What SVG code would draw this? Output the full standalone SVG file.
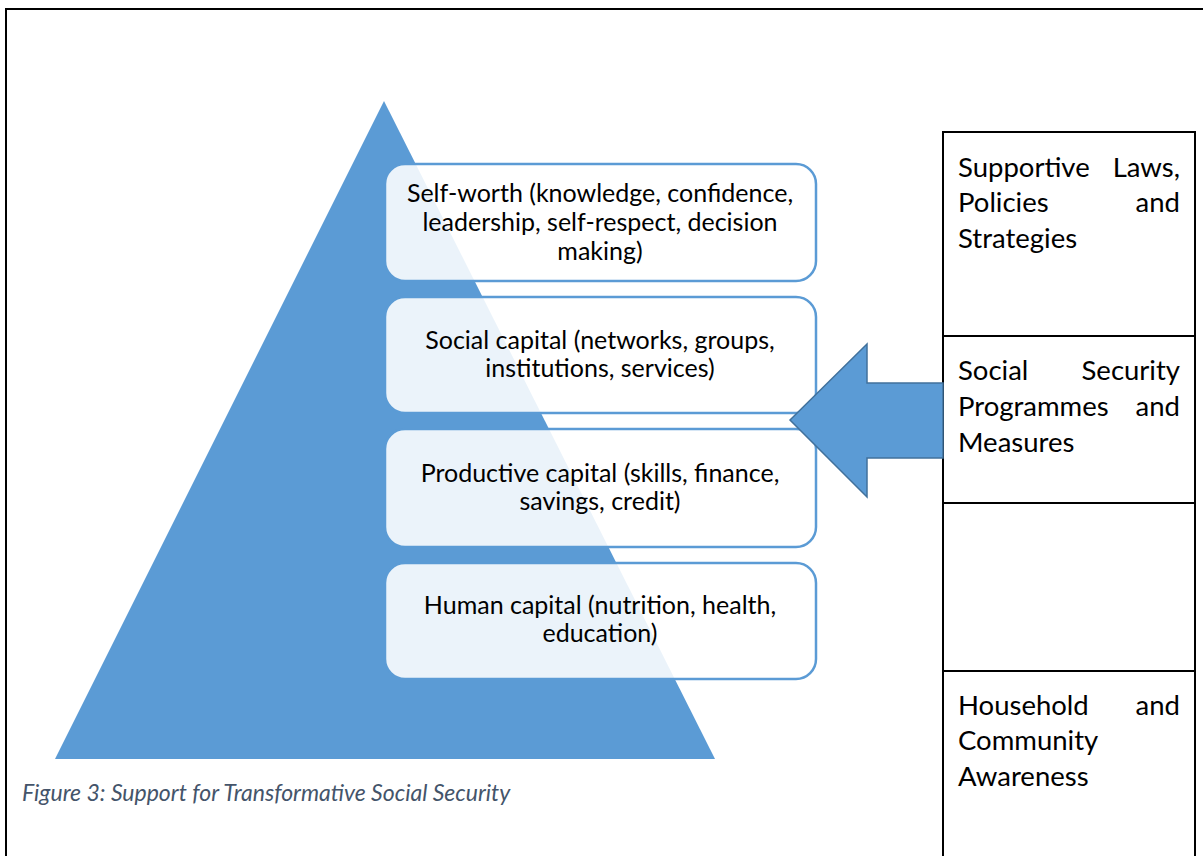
<svg xmlns="http://www.w3.org/2000/svg" width="1203" height="856" viewBox="0 0 1203 856">
<style>
.frame{fill:none;stroke:#000;stroke-width:2}
.tri{fill:#5B9BD5}
.box{fill:#fff;fill-opacity:0.88;stroke:#5B9BD5;stroke-width:2.5}
.bt{font-family:Lato,"Liberation Sans",sans-serif;font-size:25px;fill:#000;text-anchor:middle}
.cell{fill:#fff;stroke:#000;stroke-width:2}
.tt{font-family:Lato,"Liberation Sans",sans-serif;font-size:27.5px;fill:#000}
.end{text-anchor:end}
.arrow{fill:#5B9BD5;stroke:#41719C;stroke-width:1.5}
.cap{font-family:Lato,"Liberation Sans",sans-serif;font-size:23px;font-style:italic;fill:#44546A}
</style>
<rect class="frame" x="6" y="9" width="1210" height="860"/>
<g id="pyramid">
<polygon class="tri" points="384,101 55,759 715,759"/>
</g>
<g id="self-worth">
<rect class="box" x="385" y="164" width="431" height="117" rx="20"/>
<text class="bt" x="600" y="202">Self-worth (knowledge, confidence,</text>
<text class="bt" x="600" y="231">leadership, self-respect, decision</text>
<text class="bt" x="600" y="260">making)</text>
</g>
<g id="social-capital">
<rect class="box" x="385" y="297" width="431" height="116" rx="20"/>
<text class="bt" x="600" y="349">Social capital (networks, groups,</text>
<text class="bt" x="600" y="377">institutions, services)</text>
</g>
<g id="productive-capital">
<rect class="box" x="385" y="429" width="431" height="118" rx="20"/>
<text class="bt" x="600" y="482">Productive capital (skills, finance,</text>
<text class="bt" x="600" y="510">savings, credit)</text>
</g>
<g id="human-capital">
<rect class="box" x="385" y="563" width="431" height="116" rx="20"/>
<text class="bt" x="600" y="614">Human capital (nutrition, health,</text>
<text class="bt" x="600" y="642">education)</text>
</g>
<g id="table">
<g id="laws">
<rect class="cell" x="943" y="132" width="252" height="204"/>
<text class="tt" x="958" y="177">Supportive</text>
<text class="tt end" x="1180" y="177">Laws,</text>
<text class="tt" x="958" y="212">Policies</text>
<text class="tt end" x="1180" y="212">and</text>
<text class="tt" x="958" y="248">Strategies</text>
</g>
<g id="programmes">
<rect class="cell" x="943" y="336" width="252" height="167"/>
<text class="tt" x="958" y="380">Social</text>
<text class="tt end" x="1180" y="380">Security</text>
<text class="tt" x="958" y="416">Programmes</text>
<text class="tt end" x="1180" y="416">and</text>
<text class="tt" x="958" y="452">Measures</text>
</g>
<g id="empty-cell">
<rect class="cell" x="943" y="503" width="252" height="168"/>
</g>
<g id="awareness">
<rect class="cell" x="943" y="671" width="252" height="200"/>
<text class="tt" x="958" y="715">Household</text>
<text class="tt end" x="1180" y="715">and</text>
<text class="tt" x="958" y="750">Community</text>
<text class="tt" x="958" y="786">Awareness</text>
</g>
</g>
<g id="connectors">
<polygon class="arrow" points="790,420 867,344 867,383 943,383 943,458 867,458 867,497"/>
</g>
<text class="cap" x="22" y="801">Figure 3: Support for Transformative Social Security</text>
</svg>
